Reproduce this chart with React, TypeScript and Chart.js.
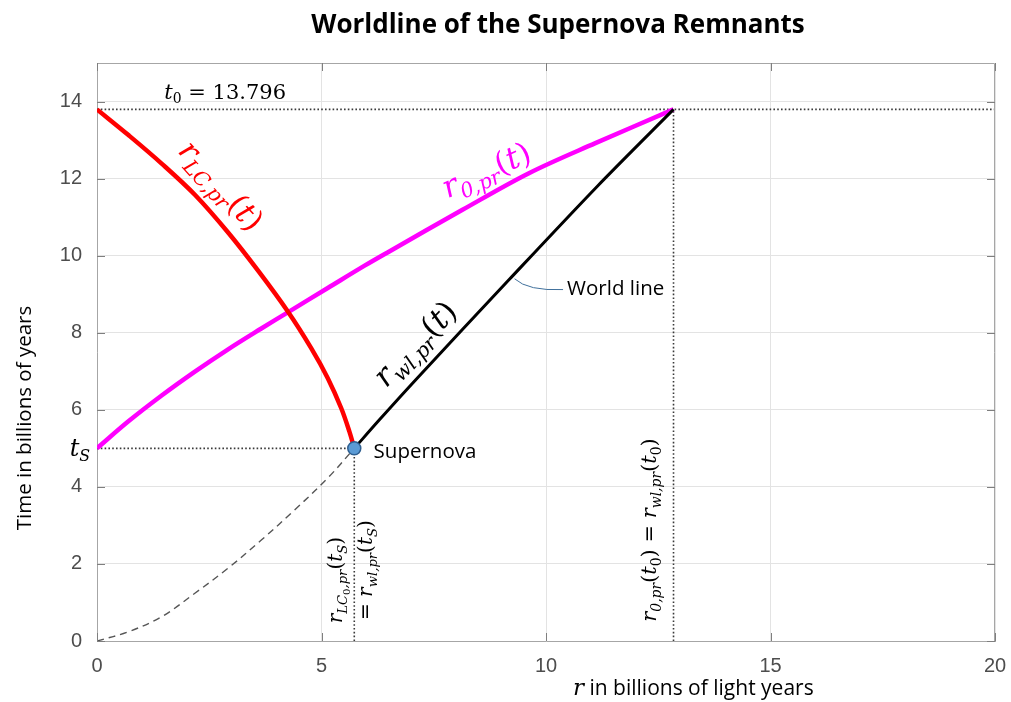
import React, { useEffect, useRef } from "react";
import { Chart, registerables } from "chart.js";

Chart.register(...registerables);

// ---- data (billions of light years / billions of years) ----
const T0 = 13.796;
const TS = 5.0;
const R_SUPERNOVA = 5.73;
const R_NOW = 12.84;
const X_MAX = 20;
const Y_MAX = 15;

const lightConeR = [0, 0.7, 1.44, 2.18, 2.92, 3.6, 4.25, 4.77, 5.14, 5.44, 5.62, 5.73];
const lightConeT = [13.796, 13.13, 12.39, 11.58, 10.6, 9.59, 8.55, 7.6, 6.82, 6.04, 5.44, 5.0];

const r0R = [0, 0.7, 1.44, 2.18, 2.92, 3.66, 4.25, 5.14, 5.96, 6.51, 8.14, 9.62, 11.1, 12.84];
const r0T = [5.0, 5.7, 6.37, 6.99, 7.57, 8.11, 8.53, 9.16, 9.74, 10.11, 11.19, 12.14, 12.92, 13.796];

const worldR = [5.73, 6.29, 7.1, 9.18, 11.15, 12.84];
const worldT = [5.0, 5.74, 6.78, 9.38, 11.81, 13.796];

const pastR = [0, 0.7, 1.44, 2.18, 2.92, 3.66, 4.4, 5.14, 5.73];
const pastT = [0, 0.24, 0.63, 1.24, 1.89, 2.62, 3.4, 4.23, 5.0];

const toXY = (xs: number[], ys: number[]) => xs.map((x, i) => ({ x, y: ys[i] }));

const MATH = '"DejaVu Serif", serif';
const SANS = '"Open Sans", Lato, sans-serif';

type Seg = [string, number, boolean]; // text, level (0 main,1 sub,2 subsub), italic

function drawMath(
  ctx: CanvasRenderingContext2D,
  segs: Seg[],
  x: number,
  y: number,
  size: number,
  angle: number,
  color: string,
  align: "center" | "left" = "center"
) {
  const scale = [1, 0.66, 0.5];
  const shift = [0, 0.22, 0.36];
  ctx.save();
  ctx.translate(x, y);
  ctx.rotate((angle * Math.PI) / 180);
  ctx.fillStyle = color;
  ctx.textBaseline = "alphabetic";
  ctx.textAlign = "left";
  const fonts = segs.map(([, l, it]) => `${it ? "italic " : ""}${(size * scale[l]).toFixed(1)}px ${MATH}`);
  let total = 0;
  const widths = segs.map((s, i) => {
    ctx.font = fonts[i];
    const w = ctx.measureText(s[0]).width;
    total += w;
    return w;
  });
  let cx = align === "center" ? -total / 2 : 0;
  const by = size * 0.3;
  segs.forEach((s, i) => {
    ctx.font = fonts[i];
    ctx.fillText(s[0], cx, by + shift[s[1]] * size);
    cx += widths[i];
  });
  ctx.restore();
}

const annotationPlugin = {
  id: "annotations",
  afterDraw(chart: any) {
    const ctx: CanvasRenderingContext2D = chart.ctx;
    const xs = chart.scales.x;
    const ys = chart.scales.y;
    const px = (v: number) => xs.getPixelForValue(v);
    const py = (v: number) => ys.getPixelForValue(v);
    const area = chart.chartArea;

    ctx.save();
    // box top/right border
    ctx.strokeStyle = "#a6a6a6";
    ctx.lineWidth = 1;
    ctx.beginPath();
    ctx.moveTo(area.left, area.top + 0.5);
    ctx.lineTo(area.right - 0.5, area.top + 0.5);
    ctx.lineTo(area.right - 0.5, area.bottom);
    ctx.stroke();
    // inward tick marks
    ctx.strokeStyle = "#7f7f7f";
    ctx.beginPath();
    ys.ticks.forEach((t: any) => {
      const y = Math.round(py(t.value)) + 0.5;
      ctx.moveTo(area.left, y);
      ctx.lineTo(area.left + 8, y);
      ctx.moveTo(area.right, y);
      ctx.lineTo(area.right - 8, y);
    });
    xs.ticks.forEach((t: any) => {
      const x = Math.round(px(t.value)) + 0.5;
      ctx.moveTo(x, area.bottom);
      ctx.lineTo(x, area.bottom - 8);
      ctx.moveTo(x, area.top);
      ctx.lineTo(x, area.top + 8);
    });
    ctx.stroke();
    ctx.restore();

    // title
    ctx.save();
    ctx.fillStyle = "#000";
    ctx.font = `bold 26px ${SANS}`;
    ctx.textAlign = "center";
    ctx.textBaseline = "alphabetic";
    ctx.fillText("Worldline of the Supernova Remnants", 558, 33);

    // y axis title
    ctx.save();
    ctx.translate(25, 418);
    ctx.rotate(-Math.PI / 2);
    ctx.font = `20.5px ${SANS}`;
    ctx.textAlign = "center";
    ctx.textBaseline = "middle";
    ctx.fillText("Time in billions of years", 0, 0);
    ctx.restore();

    // x axis title
    ctx.font = `italic 23px ${MATH}`;
    ctx.textAlign = "left";
    ctx.fillText("r", 573, 695);
    const rw = ctx.measureText("r").width;
    ctx.font = `21px ${SANS}`;
    ctx.fillText(" in billions of light years", 573 + rw, 695);

    // Supernova / World line labels
    ctx.font = `20.5px ${SANS}`;
    ctx.textBaseline = "middle";
    ctx.fillText("Supernova", px(6.16), py(4.9));
    ctx.fillText("World line", px(10.47), py(9.12));
    ctx.restore();

    // leader line for World line
    ctx.save();
    ctx.strokeStyle = "#41719c";
    ctx.lineWidth = 1;
    ctx.beginPath();
    ctx.moveTo(px(9.3), py(9.4));
    ctx.quadraticCurveTo(px(9.6), py(9.08), px(10.38), py(9.12));
    ctx.stroke();
    ctx.restore();

    // math labels
    drawMath(ctx, [["t", 0, true], ["0", 1, false], [" = 13.796", 0, false]], px(1.5), py(14.08) - 6, 21, 0, "#000", "left");
    drawMath(ctx, [["t", 0, true], ["S", 1, true]], px(-0.38), py(TS), 24, 0, "#000");
    drawMath(
      ctx,
      [["r", 0, true], ["LC,pr", 1, true], ["(", 0, false], ["t", 0, true], [")", 0, false]],
      px(2.75), py(11.8), 31, 48, "#ff0000"
    );
    drawMath(
      ctx,
      [["r", 0, true], ["0,pr", 1, true], ["(", 0, false], ["t", 0, true], [")", 0, false]],
      px(8.68), py(12.2), 31, -24, "#ff00ff"
    );
    drawMath(
      ctx,
      [["r", 0, true], ["wl,pr", 1, true], ["(", 0, false], ["t", 0, true], [")", 0, false]],
      px(7.1), py(7.7), 31, -46, "#000"
    );
    drawMath(
      ctx,
      [["r", 0, true], ["LC", 1, true], ["0", 2, false], [",pr", 1, true], ["(", 0, false], ["t", 0, true], ["S", 1, true], [")", 0, false]],
      px(5.33), py(1.58), 20, -90, "#000"
    );
    drawMath(
      ctx,
      [["= ", 0, false], ["r", 0, true], ["wl,pr", 1, true], ["(", 0, false], ["t", 0, true], ["S", 1, true], [")", 0, false]],
      px(6.0), py(1.84), 20, -90, "#000"
    );
    drawMath(
      ctx,
      [["r", 0, true], ["0,pr", 1, true], ["(", 0, false], ["t", 0, true], ["0", 1, false], [") = ", 0, false], ["r", 0, true], ["wl,pr", 1, true], ["(", 0, false], ["t", 0, true], ["0", 1, false], [")", 0, false]],
      px(12.31), py(2.88), 21, -90, "#000"
    );
  },
};

export default function App() {
  const ref = useRef<HTMLCanvasElement | null>(null);

  useEffect(() => {
    if (!ref.current) return;
    const dotted = (data: { x: number; y: number }[]) => ({
      data,
      showLine: true,
      borderColor: "#3a3a3a",
      borderWidth: 1.6,
      borderDash: [1.6, 2.2],
      pointRadius: 0,
      fill: false,
      tension: 0,
    });
    const chart = new Chart(ref.current, {
      type: "scatter",
      data: {
        datasets: [
          {
            data: [{ x: R_SUPERNOVA, y: TS }],
            pointRadius: 6.5,
            pointBackgroundColor: "#5b9bd5",
            pointBorderColor: "#2f5f90",
            pointBorderWidth: 1.5,
            showLine: false,
          },
          {
            data: toXY(worldR, worldT),
            showLine: true,
            borderColor: "#000000",
            borderWidth: 3,
            pointRadius: 0,
            tension: 0.3,
          },
          {
            data: toXY(lightConeR, lightConeT),
            showLine: true,
            borderColor: "#ff0000",
            borderWidth: 4.5,
            pointRadius: 0,
            tension: 0.35,
          },
          {
            data: toXY(r0R, r0T),
            showLine: true,
            borderColor: "#ff00ff",
            borderWidth: 4.5,
            pointRadius: 0,
            tension: 0.35,
          },
          {
            data: toXY(pastR, pastT),
            showLine: true,
            borderColor: "#555555",
            borderWidth: 1.4,
            borderDash: [7, 5],
            pointRadius: 0,
            tension: 0.35,
          },
          dotted([{ x: 0, y: T0 }, { x: X_MAX, y: T0 }]),
          dotted([{ x: 0, y: TS }, { x: R_SUPERNOVA, y: TS }]),
          dotted([{ x: R_SUPERNOVA, y: 0 }, { x: R_SUPERNOVA, y: TS }]),
          dotted([{ x: R_NOW, y: 0 }, { x: R_NOW, y: T0 }]),
        ] as any,
      },
      options: {
        animation: false,
        responsive: false,
        maintainAspectRatio: false,
        layout: { padding: { top: 63, right: 16, left: 0, bottom: 0 } },
        plugins: { legend: { display: false }, tooltip: { enabled: false }, title: { display: false } },
        scales: {
          x: {
            type: "linear",
            min: 0,
            max: X_MAX,
            afterFit: (s: any) => {
              s.height = 61;
              s.paddingLeft = 0;
              s.paddingRight = 0;
            },
            ticks: {
              stepSize: 5,
              includeBounds: false,
              padding: 13,
              color: "#4d4d4d",
              font: { family: '"Liberation Sans", Arial, sans-serif', size: 20 },
            },
            grid: { color: "#e3e3e3", drawTicks: false },
            border: { color: "#a6a6a6", width: 1 },
          },
          y: {
            type: "linear",
            min: 0,
            max: Y_MAX,
            afterFit: (s: any) => {
              s.width = 97;
              s.paddingTop = 0;
              s.paddingBottom = 0;
            },
            ticks: {
              stepSize: 2,
              includeBounds: false,
              padding: 15,
              color: "#4d4d4d",
              font: { family: '"Liberation Sans", Arial, sans-serif', size: 20 },
            },
            grid: { color: "#e3e3e3", drawTicks: false },
            border: { color: "#a6a6a6", width: 1 },
          },
        },
      } as any,
      plugins: [annotationPlugin],
    });
    return () => chart.destroy();
  }, []);

  return (
    <div style={{ position: "absolute", left: 0, top: 0, width: 1011, height: 702, background: "#fff" }}>
      <canvas ref={ref} width={1011} height={702} />
    </div>
  );
}
